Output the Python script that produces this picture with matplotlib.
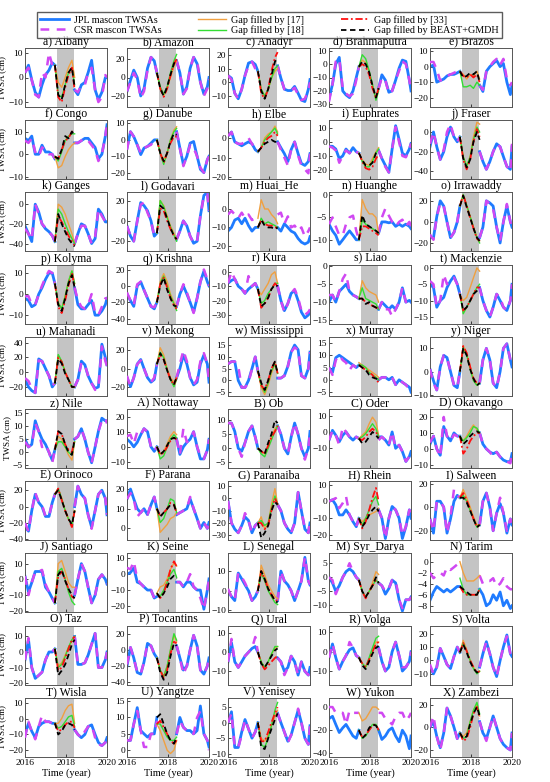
import numpy as np
import matplotlib.pyplot as plt
from matplotlib.lines import Line2D

plt.rcParams['font.family'] = ['Liberation Serif', 'DejaVu Serif']

# time axes: before the GRACE gap, after it, and inside the gap
t_pre = [2016.0, 2016.17, 2016.33, 2016.5, 2016.67, 2016.83, 2017.0, 2017.17, 2017.33, 2017.46]
t_post = [2018.42, 2018.58, 2018.75, 2018.92, 2019.08, 2019.25, 2019.42, 2019.58, 2019.75, 2019.92, 2020.0]
t_gap = [2017.46, 2017.62, 2017.79, 2017.96, 2018.12, 2018.29, 2018.42]
gap_start, gap_end = 2017.54, 2018.38

basins = ['a) Albany', 'b) Amazon', 'c) Anadyr', 'd) Brahmaputra', 'e) Brazos',
          'f) Congo', 'g) Danube', 'h) Elbe', 'i) Euphrates', 'j) Fraser',
          'k) Ganges', 'l) Godavari', 'm) Huai_He', 'n) Huanghe', 'o) Irrawaddy',
          'p) Kolyma', 'q) Krishna', 'r) Kura', 's) Liao', 't) Mackenzie',
          'u) Mahanadi', 'v) Mekong', 'w) Mississippi', 'x) Murray', 'y) Niger',
          'z) Nile', 'A) Nottaway', 'B) Ob', 'C) Oder', 'D) Okavango',
          'E) Orinoco', 'F) Parana', 'G) Paranaiba', 'H) Rhein', 'I) Salween',
          'J) Santiago', 'K) Seine', 'L) Senegal', 'M) Syr_Darya', 'N) Tarim',
          'O) Taz', 'P) Tocantins', 'Q) Ural', 'R) Volga', 'S) Volta',
          'T) Wisla', 'U) Yangtze', 'V) Yenisey', 'W) Yukon', 'X) Zambezi']

# JPL mascon TWSA (cm): 10 values before the gap, 11 after
jpl = [
    [2, 5, -1, -6, -8, -3, 1, 3, 6, 5, -5, -7, -3, -2, 2, 7, -5, -9, -6, 0, 0],
    [-15, -3, 8, 0, -20, -12, 10, 22, 18, 5, 18, 5, -18, -10, 10, 22, 15, -5, -18, -10, 0],
    [5, 3, -8, -12, -5, 5, 14, 15, 13, 8, 12, 3, -5, -6, -6, -3, -8, -13, -14, -5, 2],
    [-26, -15, 0, 5, -20, -23, -25, -20, -10, -2, -18, -8, -12, -21, -20, -12, -3, 3, 2, -12, -20],
    [0, 1, -10, -9, -8, -6, -5, -5, -4, -3, -12, -16, -3, 0, 2, 4, 0, 2, -10, -18, -12],
    [7, 6, 8, 0, 0, 4, 1, 1, 0, -2, 5, 5, 6, 7, 7, 5, 3, -2, 0, 8, 13],
    [-5, 5, 2, -3, -9, -5, -4, -2, 0, 0, 5, -5, -15, -10, -2, -1, -10, -18, -20, -12, -10],
    [1, 3, -2, -3, -4, -3, -2, -3, -6, -7, -2, -5, -8, -12, -6, -2, -8, -13, -14, -12, -8],
    [-3, -3, -5, -12, -10, -5, -8, -4, -7, -8, -6, -12, -17, -22, -5, 12, 2, -8, -10, -5, -1],
    [-15, 0, -15, -28, -20, -5, 5, -5, -10, -5, -20, -30, -38, -30, -20, -12, -15, -25, -35, -38, -15],
    [-22, -30, -38, 0, -8, -20, -25, -28, -32, -38, -40, -30, -20, -22, -30, -40, -35, -5, -10, -18, -18],
    [-5, -15, -20, 0, 18, 15, 10, 0, -15, -12, -18, -10, 0, -5, -15, -22, -20, 5, 25, 28, 10],
    [-12, -10, -6, -5, -8, -5, -9, -12, -10, -10, -10, -12, -8, -10, -12, -13, -16, -18, -19, -18, -15],
    [-6.5, -8, -9, -11, -10, -9, -8, -9, -10, -10, -8.5, -6, -6, -6.2, -6, -7, -6.5, -7, -6.5, -7, -7.5],
    [-15, -15, 5, 20, 15, 0, -15, -10, 0, 15, -15, -5, 20, 18, 15, -5, -20, 0, 15, 0, -5],
    [-2, -3, -6, -5, 0, 3, 7, 10, 10, 5, 3, -5, -7, -7, -5, -3, -10, -10, -8, -5, -2],
    [-10, -18, -25, 0, 5, -5, -15, -25, -28, -20, -25, -10, 0, -10, -20, -32, -15, 5, 18, 5, 0],
    [-8, -6, -5, -10, -12, -15, -12, -10, -8, -12, -10, -20, -27, -22, -15, -13, -20, -28, -32, -30, -28],
    [-10, -8, -10, -7, -6, -5, -7, -8, -8.5, -9, -12, -10, -11, -12, -11, -12, -10, -6, -10, -9.5, -10],
    [-5, -6, -12, -10, -9, -6, -4, -2.5, -5, -8, -6, -10, -13, -15, -12, -8, -10, -12, -13, -10, -5],
    [-10, -20, -25, -28, 18, 15, 5, -5, -20, -15, -20, -10, 15, 10, -5, -15, -22, -20, 38, 20, 10],
    [-10, -20, -10, 5, 10, 0, -10, -15, -12, 5, -10, 0, 15, 5, -10, -18, -15, 5, 15, 5, -15],
    [7, 8, 8, 0, -3, -3, 0, 5, 10, 4, 1, 1, 2, 6, 12, 15, 13, 2, 1, 5, 12],
    [5, 3, 9, 10, 9, 8, 7, 6, 5, 6, 0, 1, 1, 0, 1, -2, 0, -1, -2, -3, -5],
    [1, -4, -8, 2, 7, 6, 0, -6, -7, 0, -5, 5, 10, 5, -5, -7, 0, 10, 12, 5, 2],
    [5, 2, 3, 12, 8, 5, 3, 0, -3, 1, 5, 6, 9, 5, 0, -4, 2, 8, 13, 12, 12],
    [5, 3, 0, 3, 8, 12, 10, 0, -3, 0, 5, -5, 0, 3, 5, 10, 0, -8, -8, -2, 5],
    [9, 9, 6, 0, -1, 2, 6, 8, 4, 0, 8, 5, 0, -2, 4, 9, 5, 0, -3, 0, 6],
    [-5, 1, -2, -6, -2, 0, -3, -5, -3, -4, -3, -3, -5, -8, 0, -10, -8, -12, -18, -15, -12],
    [3, 8, 0, -4, 14, 8, 5, 10, 8, 8, 10, 3, 0, -2, -3, -2, -5, -7, -8, -8, -3],
    [-25, -30, -5, 15, 5, 0, -12, -12, 5, 15, 0, 25, 15, 10, -10, -25, -5, 15, 20, 10, -10],
    [15, 20, 15, 10, 8, 10, 7, 12, 16, 10, 7, 8, 9, 10, 15, 10, 5, 0, 3, 0, 3],
    [-2, -20, -25, -28, -22, -15, -18, -28, -22, -20, -5, -10, -20, -25, -28, -20, 5, -10, -25, -28, -20],
    [0, 1, -2, -8, -8, -5, -8, -12, -15, -10, -5, -10, -22, -10, -3, -5, -10, -22, -15, -5, -10],
    [-10, -22, 5, 5, 0, -22, -10, 5, 10, 8, -15, 5, 12, 0, -20, -5, 3, -5, -22, -10, -15],
    [2, -8, -2, 5, 5, 5, -5, -8, -12, -15, -10, 0, 10, 5, -5, -15, -10, 0, 3, 0, -3],
    [0, 1, 4, -5, -6, -8, -10, -10, -15, -14, -5, -5, -8, -5, -5, -8, -10, -10, -22, -10, -3],
    [0, -3, -5, 9, 6, 3, 0, -5, -3, 0, -5, 10, 5, 3, 0, -5, 0, 5, 17, 5, 3],
    [0, -2, -5, -3, 0, 2, 3, 2, 0, -1, -2, -3, -6, -4, -1, -2, -8, -12, -8, -8, -7],
    [-7, -5.5, -4.5, -5, -5.5, -5, -5.5, -5, -4.5, -4.5, -5, -6, -8, -7.5, -6, -7, -5.5, -8, -7, -8.5, -8],
    [-5, 8, -10, -17, -15, -13, -5, 0, 0, 2, 10, -8, -8, -7, -2, 5, 12, -10, -10, -5, 0],
    [-20, 3, -10, -28, -30, -15, 8, 5, -5, -10, 5, -10, -25, -20, 0, 18, 5, -25, -30, -20, -10],
    [-5, 5, -5, -8, -5, -2, 0, 2, 3, 0, -3, -5, -10, -8, -2, -5, -12, -5, -10, -12, -8],
    [-3, 4, -3, -9, -5, -2, 1, 2, -2, -3, 2, -5, -10, -8, 0, 5, -2, -10, -8, -5, 0],
    [-5, -10, -5, 9, 3, -3, -6, 3, 10, 6, -5, 5, 14, 5, -5, -12, 0, 10, 19, 5, 3],
    [-10, -3, -8, -12, -5, -3, -2, -2, -3, -3, -7, -10, -12, -10, -5, -4, -10, -15, -17, -15, -12],
    [3, 3, 8, 13, 6, 5, 4, 5, 5, 10, 5, 10, 7, 6, 6, 5, 6, 13.5, 5, 3, 1],
    [0, 3.5, -8, -8, -3, 1, -2, -5, -3, 0, 3, 0, -3, -6, -4, 0, 4, 0, -5, -7, -1],
    [-10, -8, -15, -22, -18, -15, -20, -25, -27, -20, -20, -28, -25, -20, -18, -25, -30, -20, -25, -36, -25],
    [0, 5, -8, -18, -5, 17, 10, 0, -10, -5, 5, -5, -10, 0, 10, 0, -10, -15, -18, -20, -5],
]

# CSR mascon TWSA (cm), same layout
csr = [
    [2, 4, -1, -7, -8, 2, 0, 10, 5, 5, -5, -6, -3, -3, 2, 4, -5, -10, -8, 1, 0],
    [-15, -5, 5, -2, -22, -15, 8, 22, 18, 5, 18, 5, -18, -12, 10, 22, 18, -5, -20, -12, -2],
    [5, 2, -8, -12, -5, 5, 12, 15, 10, 8, 12, 3, -5, -6, -6, -4, -9, -13, -12, -6, 0],
    [-28, -15, 2, 4, -18, -22, -24, -22, -12, -2, -18, -10, -12, -22, -20, -12, -5, 2, 0, -12, -20],
    [3, 3, -2, -9, -8, -6, -5, -4, -3, -3, -12, -15, -3, 0, 3, 5, 1, 5, -8, -12, -10],
    [6, 5, 7, 1, -1, 3, 2, 0, 0, -2, 5, 5, 6, 7, 6, 4, 2, -3, 0, 8, 14],
    [-6, 5, 2, -3, -8, -5, -4, -3, 0, 0, 5, -5, -16, -10, -3, -5, -10, -17, -20, -12, -10],
    [1, 3, -2, -3, -3, -2, 0, -3, -6, -7, -2, -6, -10, -14, -6, -2, -9, -14, -16, -18, -8],
    [-3, -4, -6, -15, -10, -6, -8, -5, -7, -8, -6, -12, -18, -22, -5, 11, 0, -10, -11, -5, -1],
    [-12, 0, -15, -28, -18, 0, 8, -5, -10, -5, -20, -30, -38, -30, -20, -12, -15, -25, -35, -40, -12],
    [-25, -30, -36, 0, -10, -20, -24, -28, -32, -38, -40, -30, -22, -22, -30, -40, -33, -5, -12, -18, -18],
    [-5, -15, -20, 0, 16, 18, 8, 0, -15, -12, -18, -10, 0, -5, -15, -22, -20, 5, 25, 26, 10],
    [-3, -1, -3, -5, -2, -5, -3, -6, -5, -5, -3, -2, -8, -4, -10, -9, -12, -10, -15, -12, -10],
    [-6.5, -5, -7, -9, -9, -6.5, -5, -4.6, -8, -10, -8.5, -5, -3, -4.6, -6, -7, -6, -5.5, -7, -6, -7],
    [-12, -17, 5, 18, 15, 0, -15, -10, 0, 15, -15, -5, 20, 17, 12, -5, -18, 0, 17, 0, -5],
    [-1, -1, -5, -5, 0, 4, 8, 11, 10, 5, 3, -3, -6, -7, -5, 0, -9, -10, -6, -2, -2],
    [-8, -18, -24, 2, 5, -5, -15, -25, -26, -20, -25, -10, 2, -8, -20, -33, -15, 5, 20, 8, 0],
    [-8, 0, -5, -10, -12, -15, -3, -10, -8, -12, -10, -20, -28, -22, -15, -12, -18, -27, -30, -28, -26],
    [-8, -8, -10, -7, -3.5, -2, -7, -8, -8.5, -9, -12, -10, -12, -12, -14, -12, -10, -6, -10, -9, -10],
    [-4, -5, -12, -10, -2, -5, -4, -3, -5, -8, -6, -10, -13, -15, -12, -8, -9, -12, -13, -10, -5],
    [-8, -12, -22, -28, 16, 15, 5, -5, -18, -15, -20, -10, 13, 10, -5, -15, -24, -22, 35, 15, 8],
    [-8, -20, -10, 5, 9, 0, -10, -15, -10, 5, -10, 5, 20, 8, -10, -18, -12, 8, 17, 5, -15],
    [7, 8, 8, 6, -3, -3, -1, 5, 10, 4, 1, 1, 2, 6, 12, 14, 13, 2, 1, 5, 12],
    [5, 2, 8, 10, 8, 7, 4, 6, 5, 6, 0, 1, 1, 0, 1, -2, 0, -1, -2, -4, -5],
    [1, -5, -8, 2, 7, 6, 0, -6, -7, 0, -5, 5, 10, 5, -5, -7, 0, 10, 12, 5, 2],
    [4, 2, 3, 11, 8, 2, 3, 0, -4, 1, 5, 6, 9, 5, 0, -4, 2, 8, 12, 13, 11],
    [7, 8, 2, 10, 8, 12, 10, 0, -3, 0, 5, -5, 12, 3, 5, 10, 0, -6, -8, -2, 5],
    [9, 9, 6, 0, -3, 2, 6, 8, 4, 0, 8, 5, 0, -2, 4, 9, 5, 0, -4, 0, 6],
    [-5, 1, -2, -8, 3, 0, -3, -5, -3, -4, -5, -3, -5, -8, 0, -10, -8, -12, -18, -15, -12],
    [4, 8, 0, -5, 20, 8, 5, 9, 8, 8, 10, 3, 0, -2, -5, -2, -5, -7, -8, -9, -3],
    [-20, -30, -5, 17, 5, 2, -12, -12, 5, 15, 0, 25, 15, 10, -10, -27, -5, 15, 20, 10, -10],
    [15, 18, 15, 6, 8, 10, 7, 12, 16, 10, 7, 8, 9, 10, 16, 10, 5, 0, 3, 0, 3],
    [-2, -20, -25, -28, -22, -12, -18, -28, -22, -20, -5, -10, -20, -25, -28, -20, 5, -10, -25, -28, -18],
    [0, 1, 2, -4, -1, 3, -8, -12, -15, -10, -5, -10, -22, -10, -3, -5, -10, -20, -15, -5, -10],
    [-10, -20, 5, 5, 0, -22, -8, 15, 10, 8, -15, 5, 12, 0, -20, -5, 8, -5, -20, -10, -15],
    [2, -10, -2, 5, 5, 6, -3, -8, -12, -15, -10, 0, 10, 5, -5, -15, -10, 0, 3, 0, -3],
    [4, 3, 8, -3, -6, -8, -10, -10, -15, -14, -5, -5, -8, -5, 0, -8, -10, -15, -22, -10, -3],
    [1, -3, -5, 9, 7, 4, 0, -5, -3, 0, -5, 10, 5, 3, 0, -5, 0, 5, 17, 5, 3],
    [0, -1, -6, -3, 0, 2, 5, 2, 0, -1, -2, -3, -5, -4, -1, -1, -8, -11, -8, -8, -7],
    [-2, -3, -2.5, -2, -2.5, -1, -1.5, -1, -0.5, 0, -2.5, -4, -3.5, -3.5, -3, -4.5, -4, -3, -4.5, -5, -5],
    [-5, 9, -10, -17, -15, -13, -5, 0, 0, 2, 10, -8, -8, -7, -2, 5, 12, -10, -10, -5, 0],
    [-18, 3, -10, -28, -30, -15, 8, 5, -5, -10, 5, -10, -30, -20, 0, 18, 5, -25, -30, -20, -10],
    [-5, 7, -5, -8, -5, -2, 0, 2, 8, 0, -3, -5, -12, -8, -2, -5, -12, -5, -10, -12, -8],
    [-3, 4, -3, -9, -5, -2, 5, 2, -2, -3, 2, -5, -10, -8, 0, 5, -2, -8, -8, -5, 0],
    [-3, -10, -5, 9, 3, -3, -6, 3, 10, 6, -5, 5, 14, 5, -5, -12, 0, 10, 18, 5, 3],
    [-12, -2, -8, -13, -5, 2, -2, -2, -3, -3, -7, -10, -12, -8, -5, -4, -12, -16, -17, -15, -10],
    [3, 3, 8, 12, 6, 1, 1, 5, 5, 9, 5, 9, 7, 6, 5, 5, 10, 12, 5, 3, 0],
    [0, 3, -8, -8, -4, 1, -2, -5, -3, 0, 3, 0, -3, -6.5, -4, 0, 4.5, 0, -5, -7, -1],
    [0, 0, -5, -5, -5, -15, -3, -5, -5, -5, -5, -5, -10, -12, -15, -8, -5, -5, -12, -8, -5],
    [0, 10, -8, -20, -5, 17, 10, 0, -10, -5, 5, -5, -12, 0, 10, 0, -10, -15, -18, -20, -5],
]

# gap-filled TWSA (cm) on t_gap
fill17 = [
    [5, -2, -4, 0, 4, 7, 0], [5, -12, -20, -12, 0, 12, 18], [8, -5, -10, -5, 3, 8, 10],
    [-2, 3, 1, -6, -16, -26, -18], [-3, -5, -8, -5, -6, -3, -8],
    [-1, -6, -5, -1, 2, 4, 5], [0, -8, -12, -8, 0, 6, 8], [-7, -5, 0, 2, 3, 6, 3],
    [-8, -13, -16, -17, -12, -7, -4], [-5, -25, -35, -25, -5, 10, 8],
    [-38, 0, -3, -10, -20, -30, -40], [-12, 20, 15, 5, -5, -12, -18], [-5, 5, 0, 0, -3, -5, -8],
    [-10, -1, -3, -4.2, -4.2, -5, -8.5], [15, 25, 15, 5, -5, -15, -18],
    [5, -4, -7, -1, 6, 11, 5], [-20, 5, 15, 5, -10, -20, -25], [-12, -16, -12, -8, -2, 0, -8],
    [-9, -4, -6, -7, -7.5, -8, -10], [-8, -10, -9, -6, -3, 0, -1],
    [-15, 22, 15, 0, -10, -20, -20], [5, 23, 15, 0, -10, -15, -10], [4, -3, -6, -2, 3, 7, 3],
    [7, 6, 5, 4, 3, 2, 1], [0, 11, 8, 2, -3, -6, -5],
    [1, 6, 5, 2, -1, -3, 4], [0, -5, -3, 2, 7, 10, 8], [0, -1, -2, 1, 4, 7, 8],
    [-4, -2, 0, 5, 9, 6, -2], [8, 5, 8, 12, 15, 12, 10],
    [15, 22, 10, -5, -15, -22, -5], [10, -2, 0, 2, 5, 6, 8], [-20, -15, -25, -20, -5, 8, -5],
    [-10, -12, -10, -8, -7, -6, -4], [8, 15, 8, 0, -8, -15, -15],
    [-15, 10, 12, 5, -2, -5, -5], [-12, -8, -7, -3, 3, 7, 5], [0, 13, 8, 3, 0, -3, -4],
    [-1, -5, -7, -5, -2, 2, 1], [0, -2, -3.5, -3.5, -3.5, -3, -2.5],
    [2, -9, -7, -2, 3, 7, 10], [-10, -25, -33, -20, 0, 18, 10], [0, -5, -8, -5, -1, 2, 3],
    [-3, -6, -8, -4, 0, 5, 5], [6, 15, 8, 0, -5, -9, -8],
    [-3, -3, 0, 5, 8, 9, -3], [8, 6, 3, 0, -1, 0, 3], [0, -5, -6, -4, -1, 2, 4],
    [-5, -12, -10, -5, 0, 0, -2], [-5, -8, -5, 5, 15, 20, 10],
]
fill18 = [
    [5, -7, -8, -3, 2, 4, -3], [5, -10, -18, -10, 5, 18, 25], [8, -5, -10, -5, 3, 10, 12],
    [-2, 7, 4, -5, -15, -27, -20], [-3, -13, -13, -12, -14, -10, -12],
    [-1, -3, 1, 6, 8, 9, 9], [0, -8, -15, -8, 0, 5, 7], [-7, -5, -1, 1, 3, 5, 2],
    [-8, -14, -18, -18, -14, -8, -5], [-5, -25, -35, -25, -8, 5, 0],
    [-38, -5, -10, -20, -28, -35, -40], [-12, 20, 14, 3, -6, -14, -20], [-10, -5, -8, -7, -8, -9, -10],
    [-10, -5.5, -6.5, -7, -7.5, -8, -8.5], [15, 26, 16, 5, -5, -15, -20],
    [5, -4, -7, -1, 6, 11, 5], [-20, 3, 12, 0, -12, -22, -30], [-12, -22, -20, -15, -12, -8, -8],
    [-9, -6, -9, -9.5, -10, -10.5, -12], [-8, -14, -12, -10, -8, -6, -5],
    [-15, 24, 15, 0, -10, -20, -20], [5, 18, 12, -2, -12, -20, -12], [4, -2, -5, -1, 4, 7, 3],
    [6, 6, 5, 3, 2, 1, 0], [0, 10, 7, 1, -4, -6, -5],
    [1, 4, 4, 2, 0, -1, 4], [0, -8, -6, 0, 5, 8, 6], [0, -2, -3, 0, 3, 6, 8],
    [-4, -3, -1, 2, 5, 2, -3], [8, 5, 7, 10, 14, 13, 10],
    [15, 22, 10, -5, -15, -22, -5], [10, 3, 5, 10, 15, 14, 8], [-20, -18, -22, -20, -8, 2, -5],
    [-10, -14, -10, -5, 0, 3, -2], [8, 10, 5, -3, -10, -17, -15],
    [-15, 5, 7, 0, -8, -14, -16], [-12, -14, -10, -5, 0, 3, -2], [0, 9, 5, 0, -3, -6, -7],
    [-1, -5, -7, -5, -3, -1, -2], [-3, -5, -6, -6, -6, -6, -5],
    [2, -10, -8, -3, 3, 8, 10], [-10, -25, -33, -20, 0, 20, 12], [0, -5, -8, -5, -1, 3, 3],
    [-3, -6, -8, -3, 2, 7, 8], [6, 13, 7, 0, -6, -10, -8],
    [-3, -6, -5, -2, 1, 2, -5], [8, 8, 6, 4, 3, 3, 4], [0, -7, -8, -5, -1, 4, 6.5],
    [-20, -27, -25, -20, -15, -15, -20], [-5, -10, -8, 5, 15, 22, 12],
]
fill33 = [
    [5, -8, -10, -4, 1, 4, -5], [5, -12, -21, -12, 2, 15, 20], [8, -8, -12, -5, 8, 18, 22],
    [-2, 0, -2, -8, -18, -25, -18], [-3, -6, -7, -5, -7, -5, -10],
    [-1, -2, 2, 6, 7, 10, 9], [0, -8, -14, -8, -2, 2, 2], [-7, -5, -2, 0, 1, 3, 1],
    [-8, -14, -19, -20, -18, -12, -9], [-5, -28, -38, -28, -10, 3, -5],
    [-38, -12, -18, -25, -32, -38, -42], [-12, 12, 10, 0, -8, -15, -18], [-10, -6, -8, -9, -9, -10, -10],
    [-10, -7, -7, -7.5, -8, -8.5, -9], [15, 26, 15, 4, -6, -16, -18],
    [5, -6, -9, -3, 4, 10, 3], [-20, 2, 10, -2, -15, -24, -28], [-12, -25, -22, -18, -12, -8, -10],
    [-9, -9, -10, -10.5, -11, -11.5, -12], [-8, -13, -12, -10, -8, -6, -6],
    [-15, 20, 14, 0, -10, -20, -20], [5, 15, 10, -2, -12, -18, -10], [4, -2, -4, 0, 5, 8, 3],
    [6, 5, 4, 3, 2, 0, -1], [0, 11, 8, 2, -3, -5, -5],
    [1, 8, 7, 3, 1, 0, 5], [0, -5, -4, 0, 4, 6, 5], [0, -1, -2, 1, 4, 6, 8],
    [-4, -5, -3, 0, 2, 0, -3], [8, -3, 0, 5, 8, 10, 10],
    [15, 22, 8, -5, -15, -25, -5], [10, 6, 8, 10, 13, 12, 8], [-20, -20, -25, -22, -10, 0, -5],
    [-10, -16, -12, -5, 2, 8, 0], [8, 12, 6, -2, -10, -17, -15],
    [-15, 2, 5, 0, -6, -11, -12], [-12, -15, -12, -5, 3, 8, 5], [0, 10, 6, 1, -2, -5, -5],
    [-1, -5, -7.5, -5, -3, -1, -2], [-4.5, -5.5, -6, -6, -6, -6, -5],
    [2, -12, -10, -4, 2, 8, 10], [-10, -25, -35, -25, -5, 10, 8], [0, -6, -9, -7, -5, -3, -2],
    [-3, -6, -8, -4, 0, 4, 5], [6, 13, 7, 0, -5, -9, -8],
    [-3, -8, -7, -4, -2, -2, -6], [8, 9, 7, 5, 3, 2, 3], [0, -6, -6, -3, 0, 3, 5],
    [-20, -26, -24, -20, -16, -15, -20], [-5, -12, -10, 0, 12, 18, 8],
]
fill_beast = [
    [5, -7, -9, -3, 2, 4, -4], [5, -12, -20, -10, 3, 15, 20], [8, -6, -12, -5, 5, 15, 18],
    [-2, 2, 0, -6, -16, -25, -18], [-3, -7, -6, -4, -5, -3, -10],
    [-1, -2, 2, 8, 7, 10, 8], [0, -8, -13, -8, -1, 4, 3], [-7, -5, -3, -2, -1, -2, -2],
    [-8, -13, -17, -17, -15, -8, -6], [-5, -27, -36, -28, -10, 0, -8],
    [-38, -10, -20, -28, -35, -40, -43], [-12, 15, 12, 2, -7, -15, -18], [-10, -6, -9, -10, -10, -11, -10],
    [-10, -4.5, -6.5, -7, -7.5, -8, -8.5], [15, 25, 14, 4, -6, -15, -18],
    [5, -5, -8, -2, 5, 9, 3], [-20, 0, 10, -5, -15, -24, -25], [-12, -24, -22, -18, -12, -9, -10],
    [-9, -9, -10.5, -10, -11, -11.5, -12], [-8, -13, -12, -10, -8, -7, -6],
    [-15, 18, 12, -2, -10, -20, -20], [5, 17, 10, -2, -12, -17, -10], [4, -1, -4, 0, 5, 8, 3],
    [6, 5, 4, 2, 1, 0.5, 0], [0, 10, 7, 1, -3, -6, -5],
    [1, 8, 7, 3, 0, -1, 5], [0, -5, -3, 1, 5, 6, 5], [0, -1, -2, 2, 5, 10, 9],
    [-4, -7, -6, -3, 0, -2, -4], [8, 3, 5, 8, 10, 11, 10],
    [15, 20, 8, -5, -15, -22, -5], [10, 6, 8, 10, 12, 12, 8], [-20, -32, -28, -22, -10, -3, -5],
    [-10, -15, -12, -8, -5, -3, -6], [8, 8, 4, -3, -10, -17, -15],
    [-15, 3, 6, -1, -6, -10, -12], [-12, -15, -12, -8, -3, -1, -3], [0, 10, 6, 1, -2, -5, -6],
    [-1, -5, -7, -5, -3, 0, -2], [-4.5, -5, -5.5, -6, -6, -6, -5],
    [2, -15, -12, -8, -2, 5, 8], [-10, -28, -37, -28, -8, 8, 5], [0, -6, -8, -5, -2, 1, 2],
    [-3, -7, -9, -5, -1, 2, 3], [6, 12, 6, -1, -6, -9, -8],
    [-3, -10, -8, -4, -3, -4, -7], [10, 11, 8, 5, 3, 2, 4], [0, -8, -8.5, -5, -2, 1, 3],
    [-20, -27, -24, -18, -15, -16, -20], [-5, -10, -8, 3, 12, 18, 10],
]

ylims = [(-12, 12), (-32, 32), (-18, 25), (-32, 12), (-26, 12),
         (-11, 15), (-24, 12), (-21, 9), (-27, 16), (-48, 12),
         (-48, 12), (-30, 28), (-23, 9), (-12.6, 0.6), (-28, 28),
         (-14, 14), (-46, 26), (-36, 5), (-16, 0.5), (-17, 1),
         (-32, 48), (-30, 35), (-6.5, 18.5), (-6.5, 17.5), (-10.5, 15),
         (-6, 16.5), (-14, 25), (-7, 14), (-22, 14), (-12, 25),
         (-41, 31), (-6, 24), (-34, 14), (-23, 12), (-28, 22),
         (-21, 16.5), (-24, 13), (-11, 19), (-12.5, 8.5), (-9.2, 1.5),
         (-21, 17), (-43, 30), (-17, 14), (-17, 13.5), (-18, 26),
         (-24, 13), (-2, 16), (-11, 8), (-43, 8), (-26, 26)]
yticks = [[-10, 0, 10], [-20, 0, 20], [-10, 0, 10, 20], [-30, -20, -10, 0, 10], [-20, -10, 0, 10],
          [-10, 0, 10], [-20, -10, 0, 10], [-20, -10, 0], [-20, -10, 0, 10], [-40, -20, 0],
          [-40, -20, 0], [-20, 0, 20], [-20, -10, 0], [-10, -5, 0], [-20, 0, 20],
          [-10, 0, 10], [-40, -20, 0, 20], [-30, -20, -10, 0], [-15, -10, -5, 0], [-15, -10, -5, 0],
          [-20, 0, 20, 40], [-20, 0, 20], [-5, 0, 5, 10, 15], [-5, 0, 5, 10, 15], [-10, 0, 10],
          [-5, 0, 5, 10, 15], [-10, 0, 10, 20], [-5, 0, 5, 10], [-10, 0, 10], [-10, 0, 10, 20],
          [-40, -20, 0, 20], [0, 10, 20], [-30, -20, -10, 0, 10], [-20, -10, 0, 10], [-20, 0, 20],
          [-20, -10, 0, 10], [-20, -10, 0, 10], [-10, 0, 10], [-10, -5, 0, 5], [-8, -6, -4, -2, 0],
          [-20, -10, 0, 10], [-40, -20, 0, 20], [-10, 0, 10], [-10, 0, 10], [-10, 0, 10, 20],
          [-20, -10, 0, 10], [0, 5, 10, 15], [-10, -5, 0, 5], [-40, -20, 0], [-20, 0, 20]]

c_jpl = '#1f7bff'
c_csr = '#d048f2'
c_17 = '#f0a040'
c_18 = '#33dd33'
c_33 = '#ff1010'

W, H = 550, 782
fig = plt.figure(figsize=(W / 100, H / 100), dpi=100)

col_left = [25, 127, 228, 329, 430]
ax_w, ax_h = 82, 59

for i, name in enumerate(basins):
    r, c = divmod(i, 5)
    top = 48 + 72.2 * r
    ax = fig.add_axes([col_left[c] / W, 1 - (top + ax_h) / H, ax_w / W, ax_h / H])
    ax.axvspan(gap_start, gap_end, color='#c4c4c4', lw=0, zorder=0)
    j, s = jpl[i], csr[i]
    ax.plot(t_pre, j[:10], color=c_jpl, lw=2.0, zorder=2)
    ax.plot(t_post, j[10:], color=c_jpl, lw=2.0, zorder=2)
    ax.plot(t_pre, s[:10], color=c_csr, lw=1.8, dashes=(3.5, 3), zorder=3)
    ax.plot(t_post, s[10:], color=c_csr, lw=1.8, dashes=(3.5, 3), zorder=3)
    ax.plot(t_gap, fill17[i], color=c_17, lw=1.0, zorder=4)
    ax.plot(t_gap, fill18[i], color=c_18, lw=1.0, zorder=5)
    ax.plot(t_gap, fill33[i], color=c_33, lw=1.3, dashes=(4, 1.5, 1, 1.5), zorder=6)
    ax.plot(t_gap, fill_beast[i], color='k', lw=1.3, dashes=(3, 2), zorder=7)

    ax.set_xlim(2016, 2020)
    ax.set_ylim(*ylims[i])
    ax.set_yticks(yticks[i])
    ax.set_xticks([2016, 2018, 2020])
    ax.tick_params(direction='in', length=2, width=0.5, labelsize=6.8, pad=1.5)
    for sp in ax.spines.values():
        sp.set_color('#555555')
        sp.set_linewidth(0.7)
    ax.set_title(name, fontsize=8.5, pad=1.5)
    if c == 0:
        ax.set_ylabel('TWSA (cm)', fontsize=6.5, labelpad=1)
    if r == 9:
        ax.set_xticklabels(['2016', '2018', '2020'], fontsize=6.8)
        ax.set_xlabel('Time (year)', fontsize=7.5, labelpad=1)
    else:
        ax.tick_params(labelbottom=False)

handles = [Line2D([], [], color=c_jpl, lw=2.0),
           Line2D([], [], color=c_csr, lw=1.8, dashes=(3.5, 3)),
           Line2D([], [], color=c_17, lw=1.0),
           Line2D([], [], color=c_18, lw=1.0),
           Line2D([], [], color=c_33, lw=1.3, dashes=(4, 1.5, 1, 1.5)),
           Line2D([], [], color='k', lw=1.3, dashes=(3, 2))]
labels = ['JPL mascon TWSAs', 'CSR mascon TWSAs', 'Gap filled by [17]',
          'Gap filled by [18]', 'Gap filled by [33]', 'Gap filled by BEAST+GMDH']
leg = fig.legend(handles, labels, ncol=3, loc='center', bbox_to_anchor=(0.49, 0.968),
                 fontsize=7.3, frameon=True, fancybox=False, edgecolor='#333333',
                 handlelength=2.8, handletextpad=0.5, columnspacing=3.6,
                 borderpad=0.3, labelspacing=0.1)
leg.get_frame().set_linewidth(1.0)

fig.savefig('out.png', dpi=100)
